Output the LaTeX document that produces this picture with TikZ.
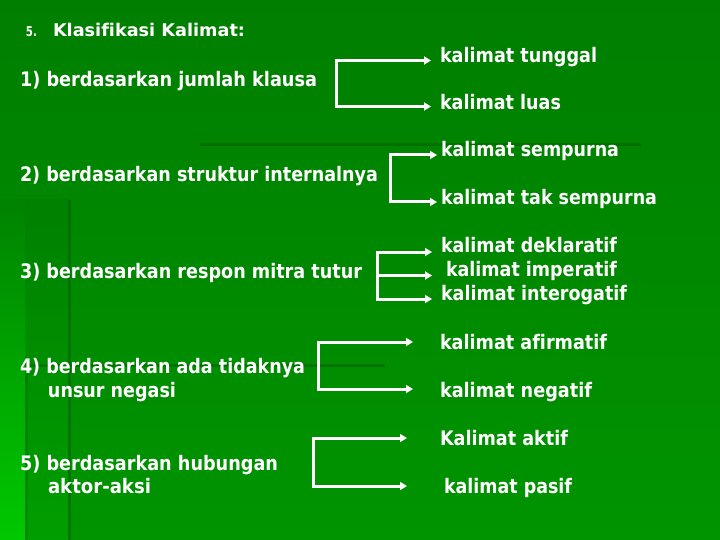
\documentclass[tikz,border=0pt]{standalone}
\usepackage{fontspec}
\setmainfont[Ligatures=NoCommon]{DejaVu Sans}
\usetikzlibrary{arrows.meta}
\definecolor{bgtop}{RGB}{0,126,0}
\definecolor{bgbot}{RGB}{0,148,0}
\definecolor{decor}{RGB}{0,92,0}
\definecolor{strip}{RGB}{0,200,0}
\definecolor{stripb}{RGB}{0,158,0}
\newcommand{\fitw}[2]{\resizebox{#1pt}{\height}{#2}}
\tikzset{
 lbl/.style={anchor=base west, inner sep=0pt, outer sep=0pt, text=white, font=\fontsize{20}{23}\selectfont\bfseries},
 tipb/.tip={Triangle[length=7pt,width=8pt]},
 conn/.style={draw=white, line width=3pt, tipb-tipb},
 conn1/.style={draw=white, line width=3pt, -tipb},
 deco/.style={draw=decor, line width=3pt, opacity=0.5},
}
\begin{document}
\begin{tikzpicture}[x=1pt,y=-1pt]
\useasboundingbox (0,0) rectangle (720,540);
\fill[top color=bgtop,bottom color=bgbot] (0,0) rectangle (720,540);
% left decorative strips
\fill[top color=bgtop!90!bgbot, bottom color=stripb] (25,200) rectangle (68,540);
\fill[top color=bgtop!80!bgbot, bottom color=strip] (0,200) rectangle (25,540);
\draw[deco] (200,145) -- (642,145);
\draw[deco] (69,200) -- (69,540);
\draw[deco] (25,365) -- (385,365);
\draw[deco, opacity=0.3] (26,368) -- (26,540);

% title
\node[lbl, font=\fontsize{13.5}{16}\selectfont\bfseries] (num) at (26,37) {\fitw{11}{5.}};
\node[lbl, font=\fontsize{17.5}{20}\selectfont\bfseries] (title) at (53,37) {\fitw{192}{Klasifikasi Kalimat:}};

% group 1
\node[lbl] (g1) at (20,86.5) {\fitw{297}{1) berdasarkan jumlah klausa}};
\node[lbl] (r1a) at (440,63) {\fitw{157}{kalimat tunggal}};
\node[lbl] (r1b) at (440,110) {\fitw{121}{kalimat luas}};
% group 2
\node[lbl] (g2) at (20,182) {\fitw{358}{2) berdasarkan struktur internalnya}};
\node[lbl] (r2a) at (441,157) {\fitw{178}{kalimat sempurna}};
\node[lbl] (r2b) at (441,205) {\fitw{216}{kalimat tak sempurna}};
% group 3
\node[lbl] (g3) at (20,278) {\fitw{342}{3) berdasarkan respon mitra tutur}};
\node[lbl] (r3a) at (441,252.5) {\fitw{176}{kalimat deklaratif}};
\node[lbl] (r3b) at (446,276.5) {\fitw{171}{kalimat imperatif}};
\node[lbl] (r3c) at (441,300.5) {\fitw{186}{kalimat interogatif}};
% group 4
\node[lbl] (g4a) at (20,373) {\fitw{285}{4) berdasarkan ada tidaknya}};
\node[lbl] (g4b) at (48,397) {\fitw{128}{unsur negasi}};
\node[lbl] (r4a) at (440,349) {\fitw{167}{kalimat afirmatif}};
\node[lbl] (r4b) at (440,397) {\fitw{152}{kalimat negatif}};
% group 5
\node[lbl] (g5a) at (20,470) {\fitw{258}{5) berdasarkan hubungan}};
\node[lbl] (g5b) at (48,493) {\fitw{103}{aktor-aksi}};
\node[lbl] (r5a) at (440,445) {\fitw{128}{Kalimat aktif}};
\node[lbl] (r5b) at (444,493) {\fitw{128}{kalimat pasif}};

% connectors
\coordinate (b1t) at (336,60.5); \coordinate (b1b) at (336,106.5);
\coordinate (e1t) at (431,60.5); \coordinate (e1b) at (431,106.5);
\draw[conn] (e1t) -- (b1t) -- (b1b) -- (e1b);

\coordinate (b2t) at (390,155); \coordinate (b2b) at (390,202);
\coordinate (e2t) at (437,155); \coordinate (e2b) at (437,202);
\draw[conn] (e2t) -- (b2t) -- (b2b) -- (e2b);

\coordinate (b3t) at (377,252); \coordinate (b3m) at (377,275.5); \coordinate (b3b) at (377,299);
\coordinate (e3t) at (432,252); \coordinate (e3m) at (432,275.5); \coordinate (e3b) at (432,299);
\draw[conn] (e3t) -- (b3t) -- (b3b) -- (e3b);
\draw[conn1] (b3m) -- (e3m);

\coordinate (b4t) at (318,342); \coordinate (b4b) at (318,389);
\coordinate (e4t) at (413,342); \coordinate (e4b) at (413,389);
\draw[conn] (e4t) -- (b4t) -- (b4b) -- (e4b);

\coordinate (b5t) at (313,438); \coordinate (b5b) at (313,486);
\coordinate (e5t) at (407,438); \coordinate (e5b) at (407,486);
\draw[conn] (e5t) -- (b5t) -- (b5b) -- (e5b);
\end{tikzpicture}
\end{document}
